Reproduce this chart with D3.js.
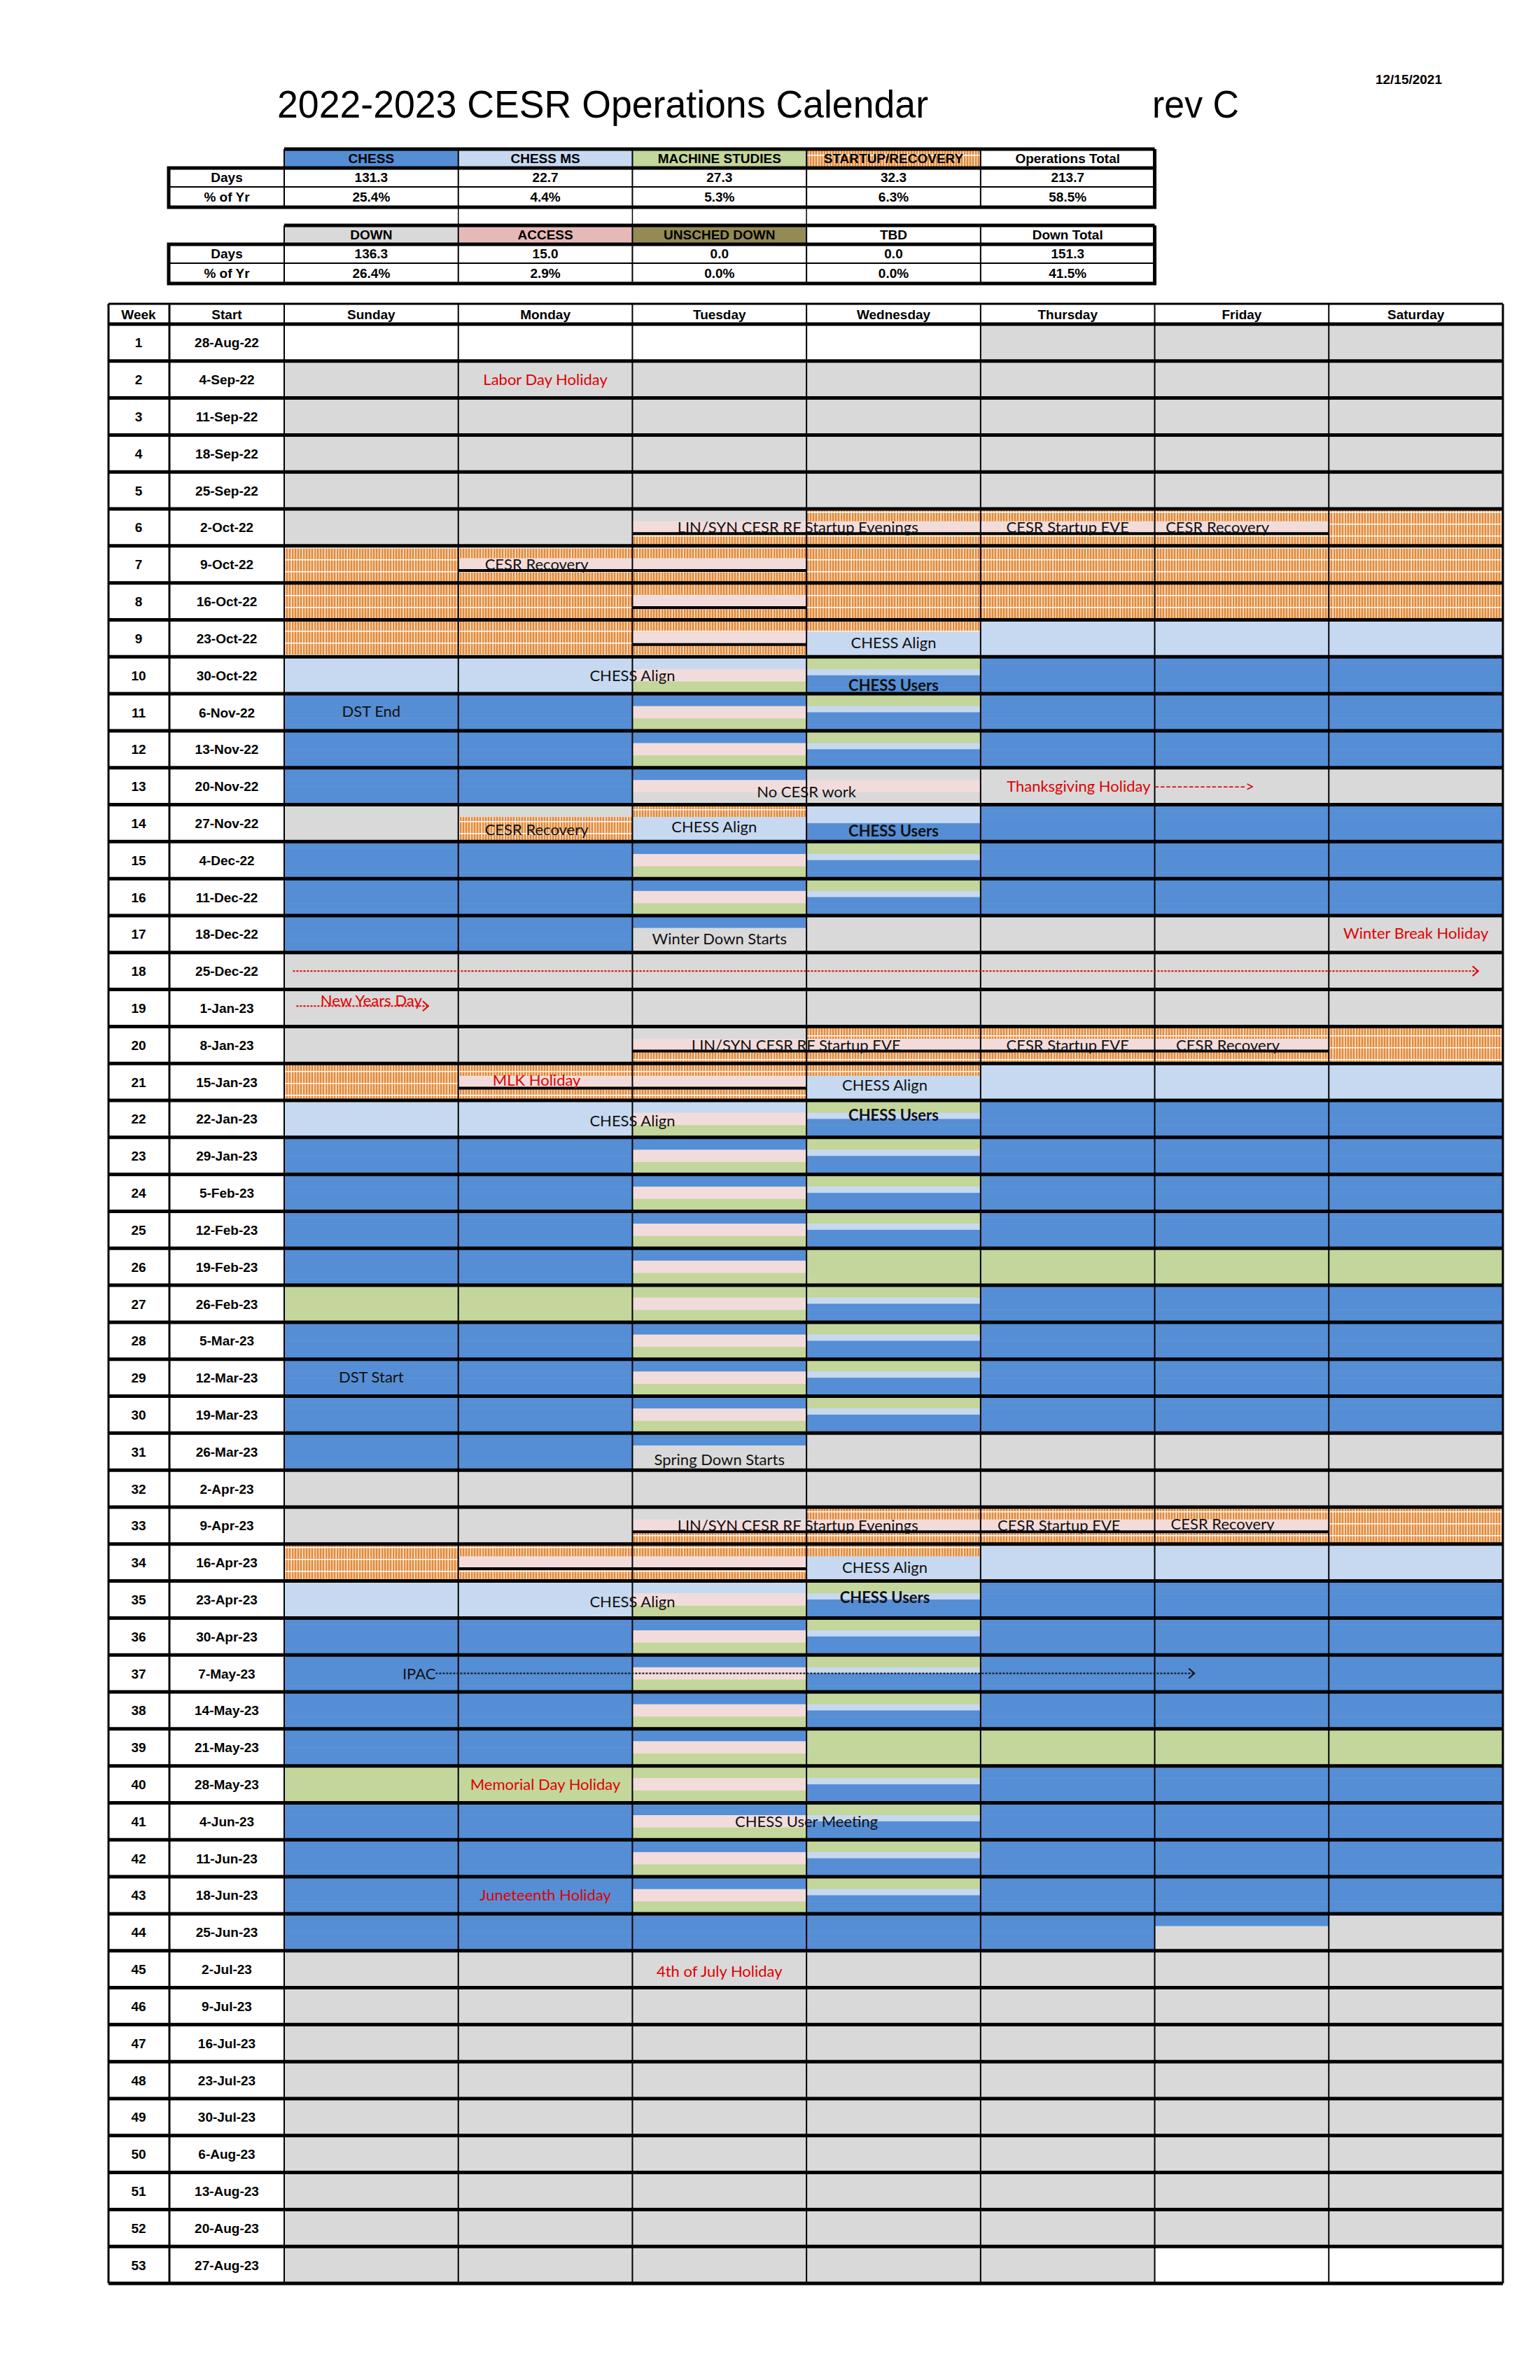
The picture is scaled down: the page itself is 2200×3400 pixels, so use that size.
<!DOCTYPE html>
<html>
<head>
<meta charset="utf-8">
<script src="https://cdn.jsdelivr.net/npm/d3@7"></script>
<style>
  body { margin: 0; background: #fff; }
  text { font-family: "Liberation Sans", Arial, sans-serif; }
  .note { font-family: Lato, "Open Sans", sans-serif; font-size: 22px; }
</style>
</head>
<body>
<svg id="chart" width="2200" height="3400"></svg>
<script>
// summary tables
const opsCats = ['CHESS', 'CHESS MS', 'MACHINE STUDIES', 'STARTUP/RECOVERY', 'Operations Total'];
const opsDays = [131.3, 22.7, 27.3, 32.3, 213.7];
const opsPct = [25.4, 4.4, 5.3, 6.3, 58.5];
const downCats = ['DOWN', 'ACCESS', 'UNSCHED DOWN', 'TBD', 'Down Total'];
const downDays = [136.3, 15.0, 0.0, 0.0, 151.3];
const downPct = [26.4, 2.9, 0.0, 0.0, 41.5];

const days = ['Sunday', 'Monday', 'Tuesday', 'Wednesday', 'Thursday', 'Friday', 'Saturday'];
const weeks = [1,2,3,4,5,6,7,8,9,10,11,12,13,14,15,16,17,18,19,20,21,22,23,24,25,26,27,
  28,29,30,31,32,33,34,35,36,37,38,39,40,41,42,43,44,45,46,47,48,49,50,51,52,53];
const starts = ['28-Aug-22','4-Sep-22','11-Sep-22','18-Sep-22','25-Sep-22','2-Oct-22','9-Oct-22',
  '16-Oct-22','23-Oct-22','30-Oct-22','6-Nov-22','13-Nov-22','20-Nov-22','27-Nov-22','4-Dec-22',
  '11-Dec-22','18-Dec-22','25-Dec-22','1-Jan-23','8-Jan-23','15-Jan-23','22-Jan-23','29-Jan-23',
  '5-Feb-23','12-Feb-23','19-Feb-23','26-Feb-23','5-Mar-23','12-Mar-23','19-Mar-23','26-Mar-23',
  '2-Apr-23','9-Apr-23','16-Apr-23','23-Apr-23','30-Apr-23','7-May-23','14-May-23','21-May-23',
  '28-May-23','4-Jun-23','11-Jun-23','18-Jun-23','25-Jun-23','2-Jul-23','9-Jul-23','16-Jul-23',
  '23-Jul-23','30-Jul-23','6-Aug-23','13-Aug-23','20-Aug-23','27-Aug-23'];

// each day cell = 6 sub-bands, top to bottom
const dayPatterns = {
  D: 'DDDDDD', W: 'WWWWWW', C: 'CCCCCC', M: 'MMMMMM', S: 'SSSSSS', R: 'RRRRRR',
  T: 'CCAASS', w: 'SSMCCC', r: 'RRAARR', d: 'DDAARR', a: 'RRMMMM', m: 'MMAASS',
  g: 'SSAASS', n: 'CCAADD', x: 'DDAADD', o: 'DDRRRR', u: 'MMMCCC', e: 'CCDDDD'
};
// one string per week, Sunday..Saturday
const weekRows = [
  'WWWWDDD','DDDDDDD','DDDDDDD','DDDDDDD','DDDDDDD','DDdrrrR','RrrRRRR','RRrRRRR','RRraMMM',
  'MMmwCCC','CCTwCCC','CCTwCCC','CCnxDDD','DoauCCC','CCTwCCC','CCTwCCC','CCeDDDD','DDDDDDD',
  'DDDDDDD','DDdrrrR','RrraMMM','MMmwCCC','CCTwCCC','CCTwCCC','CCTwCCC','CCTSSSS','SSgwCCC',
  'CCTwCCC','CCTwCCC','CCTwCCC','CCeDDDD','DDDDDDD','DDdrrrR','RrraMMM','MMmwCCC','CCTwCCC',
  'CCTwCCC','CCTwCCC','CCTSSSS','SSgwCCC','CCTwCCC','CCTwCCC','CCTwCCC','CCCCCeD','DDDDDDD',
  'DDDDDDD','DDDDDDD','DDDDDDD','DDDDDDD','DDDDDDD','DDDDDDD','DDDDDDD','DDDDDWW'
];

// annotations: week, column centre (in days from Sunday), vertical fraction
const notes = [
  [2, 1.5, 0.5, 'Labor Day Holiday', 'red'],
  [6, 2.95, 0.5, 'LIN/SYN CESR RF Startup Evenings', 'black'],
  [6, 4.5, 0.5, 'CESR Startup EVE', 'black'],
  [6, 5.36, 0.5, 'CESR Recovery', 'black'],
  [7, 1.45, 0.5, 'CESR Recovery', 'black'],
  [9, 3.5, 0.62, 'CHESS Align', 'black'],
  [10, 2.0, 0.5, 'CHESS Align', 'black'],
  [10, 3.5, 0.78, 'CHESS Users', 'black', true],
  [11, 0.5, 0.48, 'DST End', 'black'],
  [13, 3.0, 0.65, 'No CESR work', 'black'],
  [14, 1.45, 0.68, 'CESR Recovery', 'black'],
  [14, 2.47, 0.6, 'CHESS Align', 'black'],
  [14, 3.5, 0.7, 'CHESS Users', 'black', true],
  [17, 2.5, 0.62, 'Winter Down Starts', 'black'],
  [17, 6.5, 0.48, 'Winter Break Holiday', 'red'],
  [19, 0.5, 0.3, 'New Years Day', 'red'],
  [20, 2.94, 0.5, 'LIN/SYN CESR RF Startup EVE', 'black'],
  [20, 4.5, 0.5, 'CESR Startup EVE', 'black'],
  [20, 5.42, 0.5, 'CESR Recovery', 'black'],
  [21, 1.45, 0.45, 'MLK Holiday', 'red'],
  [21, 3.45, 0.58, 'CHESS Align', 'black'],
  [22, 2.0, 0.55, 'CHESS Align', 'black'],
  [22, 3.5, 0.4, 'CHESS Users', 'black', true],
  [29, 0.5, 0.48, 'DST Start', 'black'],
  [31, 2.5, 0.72, 'Spring Down Starts', 'black'],
  [33, 2.95, 0.5, 'LIN/SYN CESR RF Startup Evenings', 'black'],
  [33, 4.45, 0.5, 'CESR Startup EVE', 'black'],
  [33, 5.39, 0.45, 'CESR Recovery', 'black'],
  [34, 3.45, 0.62, 'CHESS Align', 'black'],
  [35, 2.0, 0.55, 'CHESS Align', 'black'],
  [35, 3.45, 0.45, 'CHESS Users', 'black', true],
  [40, 1.5, 0.5, 'Memorial Day Holiday', 'red'],
  [41, 3.0, 0.5, 'CHESS User Meeting', 'black'],
  [43, 1.5, 0.5, 'Juneteenth Holiday', 'red'],
  [45, 2.5, 0.55, '4th of July Holiday', 'red']
];
// dashed arrows: week, from col, to col, vertical fraction, colour
const arrows = [
  [18, 0.05, 6.85, 0.5, 'red'],
  [19, 0.07, 0.82, 0.45, 'red'],
  [37, 0.87, 5.22, 0.5, 'black']
];

const fills = { D: '#d9d9d9', W: '#ffffff', C: '#558ed5', M: '#c6d9f1', S: '#c3d69b',
  A: '#f2dcdb', R: 'url(#hatch)' };

const svg = d3.select('#chart');

// startup / recovery hatch
const pat = svg.append('defs').append('pattern')
  .attr('id', 'hatch').attr('patternUnits', 'userSpaceOnUse')
  .attr('width', 16).attr('height', 17);
pat.append('rect').attr('width', 16).attr('height', 17).attr('fill', '#f3c393');
[1, 5, 9, 13].forEach(px => pat.append('rect').attr('x', px).attr('width', 2).attr('height', 17).attr('fill', '#de8a3e'));
pat.append('rect').attr('width', 16).attr('height', 1.5).attr('fill', '#fff');
pat.append('rect').attr('width', 1).attr('height', 17).attr('fill', '#fbe9d8');

const x = d3.scaleBand().domain(days).range([406, 2147]);
const y = d3.scaleBand().domain(weeks).range([463, 3262]);
const bw = x.bandwidth(), bh = y.bandwidth();
const sub = d3.scaleLinear().domain([0, 6]).range([0, bh]);
const colX = c => x.range()[0] + c * bw;

// title
svg.append('text').attr('x', 396).attr('y', 168).attr('font-size', 56)
  .attr('textLength', 930).attr('lengthAdjust', 'spacingAndGlyphs')
  .text('2022-2023  CESR Operations Calendar');
svg.append('text').attr('x', 1646).attr('y', 168).attr('font-size', 56)
  .attr('textLength', 124).attr('lengthAdjust', 'spacingAndGlyphs').text('rev C');
svg.append('text').attr('x', 2060).attr('y', 120).attr('font-size', 19)
  .attr('font-weight', 'bold').attr('text-anchor', 'end').text('12/15/2021');

// summary tables
const tcols = days.slice(0, 5);
function summary(cats, dvals, pvals, catFills, top) {
  const g = svg.append('g');
  const rh = [27, 27, 29];
  const y0 = top, y1 = top + rh[0], y2 = y1 + rh[1], y3 = y2 + rh[2];
  g.selectAll('rect.h').data(cats).join('rect')
    .attr('x', (d, i) => x(tcols[i])).attr('y', y0).attr('width', bw).attr('height', rh[0])
    .attr('fill', (d, i) => catFills[i]);
  g.selectAll('text.h').data(cats).join('text')
    .attr('x', (d, i) => x(tcols[i]) + bw / 2).attr('y', y0 + 20)
    .attr('text-anchor', 'middle').attr('font-size', 19).attr('font-weight', 'bold')
    .text(d => d);
  g.selectAll('text.dv').data(dvals).join('text')
    .attr('x', (d, i) => x(tcols[i]) + bw / 2).attr('y', y1 + 20)
    .attr('text-anchor', 'middle').attr('font-size', 19).attr('font-weight', 'bold')
    .text(d => d.toFixed(1));
  g.selectAll('text.pv').data(pvals).join('text')
    .attr('x', (d, i) => x(tcols[i]) + bw / 2).attr('y', y2 + 21)
    .attr('text-anchor', 'middle').attr('font-size', 19).attr('font-weight', 'bold')
    .text(d => d.toFixed(1) + '%');
  g.append('text').attr('x', 324).attr('y', y1 + 20).attr('text-anchor', 'middle')
    .attr('font-size', 19).attr('font-weight', 'bold').text('Days');
  g.append('text').attr('x', 324).attr('y', y2 + 21).attr('text-anchor', 'middle')
    .attr('font-size', 19).attr('font-weight', 'bold').text('% of Yr');
  const right = x(tcols[4]) + bw;
  tcols.forEach((c, i) => g.append('line').attr('x1', x(c)).attr('x2', x(c))
    .attr('y1', y0).attr('y2', y3).attr('stroke', '#000').attr('stroke-width', 2));
  g.append('line').attr('x1', 241).attr('x2', right).attr('y1', y2).attr('y2', y2)
    .attr('stroke', '#000').attr('stroke-width', 2);
  g.append('line').attr('x1', 406).attr('x2', right).attr('y1', y0).attr('y2', y0)
    .attr('stroke', '#000').attr('stroke-width', 5);
  g.append('line').attr('x1', right).attr('x2', right).attr('y1', y0).attr('y2', y1)
    .attr('stroke', '#000').attr('stroke-width', 5);
  g.append('rect').attr('x', 241).attr('y', y1).attr('width', right - 241).attr('height', y3 - y1)
    .attr('fill', 'none').attr('stroke', '#000').attr('stroke-width', 5);
}
summary(opsCats, opsDays, opsPct, ['#558ed5', '#c6d9f1', '#c3d69b', 'url(#hatch)', '#fff'], 213);
summary(downCats, downDays, downPct, ['#d9d9d9', '#e6b9b8', '#948a54', '#fff', '#fff'], 322);
[1, 2, 3].forEach(i => svg.append('line').attr('x1', x(days[i])).attr('x2', x(days[i]))
  .attr('y1', 296).attr('y2', 322).attr('stroke', '#000').attr('stroke-width', 1.5));

// calendar cells
const cells = [];
weekRows.forEach((row, wi) => {
  row.split('').forEach((code, di) => {
    dayPatterns[code].split('').forEach((b, si) => {
      cells.push({ week: weeks[wi], day: days[di], band: si, fill: fills[b] });
    });
    if (code === 'r' || code === 'd') cells.push({ week: weeks[wi], day: days[di], line: true });
  });
});
const grid = svg.append('g');
grid.selectAll('rect.band').data(cells.filter(c => !c.line)).join('rect')
  .attr('x', d => x(d.day)).attr('y', d => y(d.week) + sub(d.band))
  .attr('width', bw).attr('height', sub(1) + 0.5).attr('fill', d => d.fill);
grid.selectAll('line.split').data(cells.filter(c => c.line)).join('line')
  .attr('x1', d => x(d.day)).attr('x2', d => x(d.day) + bw)
  .attr('y1', d => y(d.week) + sub(4)).attr('y2', d => y(d.week) + sub(4))
  .attr('stroke', '#000').attr('stroke-width', 4);

// header row
svg.append('rect').attr('x', 155).attr('y', 434).attr('width', 2147 - 155).attr('height', 29)
  .attr('fill', '#fff');
const hdr = [['Week', 198], ['Start', 324]].concat(days.map(d => [d, x(d) + bw / 2]));
svg.selectAll('text.hdr').data(hdr).join('text')
  .attr('x', d => d[1]).attr('y', 456).attr('text-anchor', 'middle')
  .attr('font-size', 19).attr('font-weight', 'bold').text(d => d[0]);

svg.selectAll('text.wk').data(weeks).join('text')
  .attr('x', 198).attr('y', d => y(d) + bh / 2 + 7).attr('text-anchor', 'middle')
  .attr('font-size', 19).attr('font-weight', 'bold').text(d => d);
svg.selectAll('text.st').data(starts).join('text')
  .attr('x', 324).attr('y', (d, i) => y(weeks[i]) + bh / 2 + 7).attr('text-anchor', 'middle')
  .attr('font-size', 19).attr('font-weight', 'bold').text(d => d);

// grid lines
days.forEach(d => svg.append('line').attr('x1', x(d)).attr('x2', x(d))
  .attr('y1', 434).attr('y2', 3262).attr('stroke', '#000').attr('stroke-width', 2));
[155, 242, 2147].forEach(v => svg.append('line').attr('x1', v).attr('x2', v)
  .attr('y1', 434).attr('y2', 3262).attr('stroke', '#000').attr('stroke-width', 3));
svg.selectAll('line.row').data(weeks.concat([null])).join('line')
  .attr('x1', 155).attr('x2', 2147)
  .attr('y1', d => d === null ? 3262 : y(d)).attr('y2', d => d === null ? 3262 : y(d))
  .attr('stroke', '#000').attr('stroke-width', 5);
svg.append('line').attr('x1', 155).attr('x2', 2147).attr('y1', 434).attr('y2', 434)
  .attr('stroke', '#000').attr('stroke-width', 3);

// annotations
svg.selectAll('text.note').data(notes).join('text')
  .attr('class', 'note')
  .attr('x', d => colX(d[1])).attr('y', d => y(d[0]) + d[2] * bh + 8)
  .attr('text-anchor', 'middle').attr('fill', d => d[4] === 'red' ? '#e00000' : '#111')
  .attr('font-weight', d => d[5] ? 'bold' : null).text(d => d[3]);
svg.append('text').attr('class', 'note').attr('x', colX(4.15)).attr('y', y(13) + bh * 0.5 + 8)
  .attr('fill', '#e00000').text('Thanksgiving  Holiday ---------------->');
svg.append('text').attr('class', 'note').attr('x', colX(0.87)).attr('y', y(37) + bh * 0.5 + 8)
  .attr('text-anchor', 'end').attr('fill', '#111').text('IPAC');
arrows.forEach(a => {
  const yy = y(a[0]) + a[3] * bh, c = a[4] === 'red' ? '#e00000' : '#111';
  svg.append('line').attr('x1', colX(a[1])).attr('x2', colX(a[2])).attr('y1', yy).attr('y2', yy)
    .attr('stroke', c).attr('stroke-width', 2).attr('stroke-dasharray', '3,2');
  svg.append('path').attr('d', `M${colX(a[2]) - 6},${yy - 7}L${colX(a[2]) + 2},${yy}L${colX(a[2]) - 6},${yy + 7}`)
    .attr('fill', 'none').attr('stroke', c).attr('stroke-width', 2);
});
</script>
</body>
</html>
